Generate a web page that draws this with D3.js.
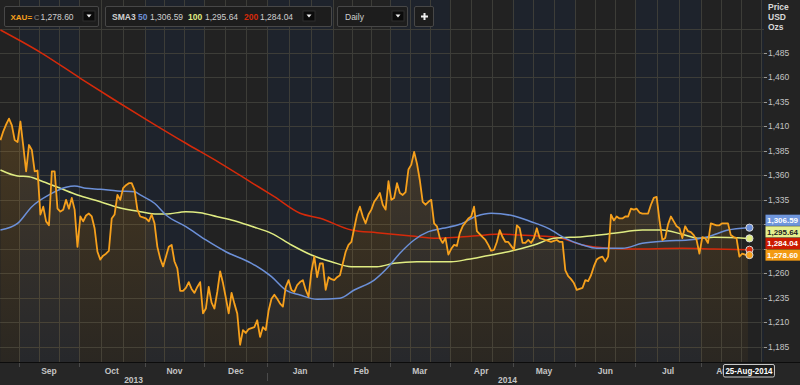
<!DOCTYPE html>
<html>
<head>
<meta charset="utf-8">
<script src="https://cdn.jsdelivr.net/npm/d3@7"></script>
<style>
body { margin: 0; background: #232323; }
svg { display: block; font-family: "Liberation Sans", Arial, sans-serif; }
</style>
</head>
<body>
<script>
// ---- data ----
// XAU= daily close, one value per trading day from 22-Aug-2013 to 25-Aug-2014
var price = [
  1396,1405,1412,1418,1411,1396,1394,1415,1390,1364,
  1391,1386,1364,1365,1320,1328,1313,1309,1364,1364,
  1326,1323,1325,1335,1326,1337,1325,1287,1318,1313,
  1319,1321,1318,1306,1282,1274,1278,1280,1283,1316,
  1320,1340,1335,1347,1350,1352,1352,1345,1325,1318,
  1317,1316,1313,1320,1311,1287,1275,1267,1277,1287,
  1289,1272,1265,1242,1242,1245,1251,1244,1240,1246,
  1251,1219,1224,1246,1230,1224,1241,1262,1250,1235,
  1219,1240,1229,1219,1187,1202,1199,1203,1204,1205,
  1212,1195,1205,1202,1222,1234,1238,1234,1229,1226,
  1246,1253,1243,1241,1248,1251,1253,1243,1236,1262,
  1277,1256,1270,1270,1243,1256,1254,1253,1256,1258,
  1270,1282,1289,1292,1306,1320,1328,1318,1311,1320,
  1325,1333,1337,1342,1330,1325,1354,1335,1337,1352,
  1342,1340,1343,1366,1371,1384,1372,1355,1333,1330,
  1333,1335,1311,1308,1296,1291,1296,1279,1285,1289,
  1288,1301,1308,1312,1316,1318,1328,1303,1300,1297,
  1294,1289,1283,1284,1292,1304,1297,1292,1292,1288,
  1284,1309,1306,1291,1291,1294,1291,1296,1306,1296,
  1295,1294,1293,1292,1293,1294,1292,1292,1263,1257,
  1254,1250,1243,1244,1245,1253,1252,1258,1267,1274,
  1276,1277,1272,1277,1320,1314,1318,1316,1316,1318,
  1318,1326,1325,1326,1322,1321,1321,1321,1330,1337,
  1338,1314,1294,1296,1310,1318,1313,1308,1306,1296,
  1308,1303,1302,1299,1294,1280,1297,1296,1291,1311,
  1310,1309,1309,1311,1311,1311,1299,1297,1296,1277,
  1280,1279,1278.60
];

// moving averages, sampled at trading-day index
var sma50Idx = [0,6,11,17,23,26,30,35,41,47,49,54,58,65,72,79,88,95,100,105,111,119,124,131,136,140,145,150,155,161,167,172,180,186,192,198,204,209,218,225,233,241,248,255,262];
var sma50 = [1304.2,1311,1328,1340,1347.8,1349.1,1346.8,1345.8,1344,1343.3,1340,1331.5,1319.5,1307.6,1294,1282,1270.2,1256.5,1242.9,1237.8,1233.4,1234.4,1242.9,1253.1,1266.7,1280.4,1294,1302.5,1305.9,1310,1318.5,1321.3,1318.5,1312.7,1305.9,1295.7,1288.9,1285.5,1285.5,1290.6,1293,1294,1297.4,1304.2,1306.59];

var sma100Idx = [0,6,10,15,21,27,35,41,49,55,58,65,70,76,82,88,95,102,109,116,123,132,138,146,158,164,170,178,187,194,204,215,225,232,239,245,250,262];
var sma100 = [1365.5,1359.4,1358.6,1353.5,1346.8,1340,1333.1,1327.4,1322.9,1320.5,1320.5,1322.9,1321.9,1317.8,1313.7,1308,1300.8,1288.9,1278.7,1271.8,1266.7,1266.7,1270.2,1271.8,1271.8,1274.3,1277.6,1282,1288.9,1295.7,1297.4,1300.8,1304.2,1304.2,1299.8,1295.7,1296.7,1295.64];

var sma200Idx = [0,14,28,40,52,65,77,88,96,105,112,123,132,144,153,160,170,175,182,195,204,213,221,239,250,262];
var sma200 = [1508.5,1485.7,1459.2,1437,1415.5,1392.8,1372.6,1352.7,1338.2,1321.3,1316.2,1304.2,1301.4,1298.1,1295.7,1296.7,1299.1,1300.1,1299.1,1296.7,1288.9,1285.5,1284.8,1285.5,1284.8,1284.04];

var yTicks = [1185,1210,1235,1260,1285,1310,1335,1360,1385,1410,1435,1460,1485,1510];
var monthNames = ["Jan","Feb","Mar","Apr","May","Jun","Jul","Aug","Sep","Oct","Nov","Dec"];
var lastLabel = "25-Aug-2014";

var C_PRICE = "#f6a01c", C_50 = "#6c90d8", C_100 = "#e0ec82", C_200 = "#d62a0a";

// ---- layout ----
var W = 800, H = 385, plotW = 764, axisY = 362;

// trading calendar (weekdays), a few days past the last close for padding
var days = [];
for (var d = new Date(2013, 7, 22); d <= new Date(2014, 8, 5); d.setDate(d.getDate() + 1)) {
    if (d.getDay() != 0 && d.getDay() != 6) days.push(new Date(d));
}
var lastIdx = price.length - 1;

var x = d3.scaleLinear().domain([-0.158, 267.63]).range([0, plotW]);
var y = d3.scaleLinear().domain([1485, 1185]).range([53, 346.7]);

var svg = d3.select("body").append("svg").attr("width", W).attr("height", H);

svg.append("rect").attr("width", W).attr("height", H).attr("fill", "#232323");
svg.append("rect").attr("width", plotW).attr("height", axisY).attr("fill", "#222222");

// month spans
var months = [];
days.forEach(function(d, i) {
    if (i == 0 || d.getMonth() != days[i - 1].getMonth()) months.push({ date: d, i: i });
});
months.forEach(function(m, k) {
    m.x0 = k == 0 ? 0 : x(m.i - 0.5);
    m.x1 = k < months.length - 1 ? x(months[k + 1].i - 0.5) : plotW;
    m.full = k > 0 && k < months.length - 1;
    m.n = (m.date.getFullYear() - 2013) * 12 + m.date.getMonth() - 8;
});

// alternating month shading
svg.append("g").selectAll("rect")
    .data(months.filter(function(m) { return m.n % 2 == 0; }))
    .join("rect")
    .attr("x", function(m) { return m.x0; })
    .attr("width", function(m) { return Math.min(m.x1, plotW) - m.x0; })
    .attr("y", 0).attr("height", axisY)
    .attr("fill", "#1e232c");

// grid
var grid = svg.append("g").attr("stroke", "#3d3d38").attr("stroke-width", 1);
grid.selectAll("line.h").data(yTicks).join("line")
    .attr("x1", 0).attr("x2", plotW)
    .attr("y1", function(v) { return Math.round(y(v)) + 0.5; })
    .attr("y2", function(v) { return Math.round(y(v)) + 0.5; });

var vlines = [];
months.forEach(function(m, k) {
    if (k > 0) vlines.push(m.x0);
    if (m.full) {
        vlines.push(m.x0 + (m.x1 - m.x0) / 3);
        vlines.push(m.x0 + 2 * (m.x1 - m.x0) / 3);
    }
});
grid.selectAll("line.v").data(vlines).join("line")
    .attr("x1", function(v) { return Math.round(v) + 0.5; })
    .attr("x2", function(v) { return Math.round(v) + 0.5; })
    .attr("y1", 0).attr("y2", axisY);

// price area + line
var defs = svg.append("defs");
var grad = defs.append("linearGradient").attr("id", "fillg")
    .attr("gradientUnits", "userSpaceOnUse")
    .attr("x1", 0).attr("x2", 0).attr("y1", 110).attr("y2", axisY);
grad.append("stop").attr("offset", 0).attr("stop-color", C_PRICE).attr("stop-opacity", 0.18);
grad.append("stop").attr("offset", 1).attr("stop-color", C_PRICE).attr("stop-opacity", 0.04);

svg.append("path")
    .datum(price)
    .attr("fill", "url(#fillg)")
    .attr("d", d3.area()
        .x(function(v, i) { return x(i); })
        .y0(axisY)
        .y1(function(v) { return y(v); }));

function smaPath(idx, vals, color) {
    svg.append("path")
        .datum(vals)
        .attr("fill", "none")
        .attr("stroke", color)
        .attr("stroke-width", 1.5)
        .attr("d", d3.line()
            .curve(d3.curveMonotoneX)
            .x(function(v, k) { return x(idx[k]); })
            .y(function(v) { return y(v); }));
}
smaPath(sma200Idx, sma200, C_200);
smaPath(sma100Idx, sma100, C_100);
smaPath(sma50Idx, sma50, C_50);

svg.append("path")
    .datum(price)
    .attr("fill", "none")
    .attr("stroke", C_PRICE)
    .attr("stroke-width", 1.8)
    .attr("stroke-linejoin", "round")
    .attr("d", d3.line()
        .x(function(v, i) { return x(i); })
        .y(function(v) { return y(v); }));

// end markers and price tags
var ends = [
    { v: sma50[sma50.length - 1], c: C_50, bg: "#6f96dc", fg: "#fff" },
    { v: sma100[sma100.length - 1], c: C_100, bg: "#e6f08e", fg: "#222" },
    { v: sma200[sma200.length - 1], c: C_200, bg: "#cc1a00", fg: "#fff" },
    { v: price[lastIdx], c: C_PRICE, bg: "#f39a12", fg: "#fff" }
];
svg.append("g").selectAll("circle").data(ends).join("circle")
    .attr("cx", x(lastIdx) + 1.5)
    .attr("cy", function(e) { return y(e.v); })
    .attr("r", 3.6)
    .attr("fill", function(e) { return e.c; })
    .attr("stroke", "#d8d8d8").attr("stroke-width", 1);

// tag positions, stacked upward from the lowest value
var sorted = ends.slice().sort(function(a, b) { return a.v - b.v; });
var prevY = Infinity;
sorted.forEach(function(e) {
    var ty = Math.min(y(e.v), prevY - 11.6);
    prevY = ty;
    e.ty = ty;
});

// y axis (labels hidden behind the tags are left out)
var shownTicks = yTicks.filter(function(v) {
    return v < 1500 && ends.every(function(e) { return Math.abs(y(v) - e.ty) > 7; });
});
var yax = svg.append("g");
yax.selectAll("line").data(yTicks.filter(function(v) { return v < 1500; })).join("line")
    .attr("x1", 764).attr("x2", 767)
    .attr("y1", function(v) { return Math.round(y(v)) + 0.5; })
    .attr("y2", function(v) { return Math.round(y(v)) + 0.5; })
    .attr("stroke", "#999");
yax.selectAll("text").data(shownTicks).join("text")
    .attr("x", 768)
    .attr("y", function(v) { return y(v) + 3; })
    .attr("fill", "#c4c4c4")
    .attr("font-size", "8.5px")
    .text(function(v) { return d3.format(",")(v); });
yax.selectAll("text.u").data(["Price", "USD", "Ozs"]).join("text")
    .attr("x", 768)
    .attr("y", function(s, i) { return 9.5 + i * 10; })
    .attr("fill", "#d8d8d8")
    .attr("font-size", "8.5px")
    .attr("font-weight", "bold")
    .text(function(s) { return s; });

var tags = svg.append("g").selectAll("g").data(ends).join("g");
tags.append("rect")
    .attr("x", 765.5).attr("width", 35)
    .attr("y", function(e) { return e.ty - 5.6; })
    .attr("height", 11.2)
    .attr("fill", function(e) { return e.bg; });
tags.append("text")
    .attr("x", 767)
    .attr("y", function(e) { return e.ty + 3; })
    .attr("fill", function(e) { return e.fg; })
    .attr("font-size", "8px")
    .attr("font-weight", "bold")
    .attr("textLength", 31)
    .attr("lengthAdjust", "spacingAndGlyphs")
    .text(function(e) { return d3.format(",.2f")(e.v); });

// x axis
svg.append("rect").attr("y", axisY).attr("width", W).attr("height", H - axisY).attr("fill", "#262626");
svg.append("line").attr("x1", 0).attr("x2", W).attr("y1", axisY + 0.5).attr("y2", axisY + 0.5)
    .attr("stroke", "#0c0c0c").attr("stroke-width", 1.2);

var lx = x(lastIdx) + 1;
var xEnd = x(lastIdx);

var xax = svg.append("g");
xax.selectAll("line").data(months.slice(1).filter(function(m) { return m.x0 < plotW - 6; })).join("line")
    .attr("x1", function(m) { return Math.round(m.x0) + 0.5; })
    .attr("x2", function(m) { return Math.round(m.x0) + 0.5; })
    .attr("y1", axisY + 1).attr("y2", axisY + 5)
    .attr("stroke", "#4a4a4a");
xax.selectAll("text").data(months.filter(function(m) { return m.full; })).join("text")
    .attr("x", function(m) { return (m.x0 + Math.min(m.x1, xEnd)) / 2; })
    .attr("y", 373.5)
    .attr("text-anchor", "middle")
    .attr("fill", "#c4c4c4")
    .attr("font-size", "8.5px")
    .attr("font-weight", "bold")
    .text(function(m) { return monthNames[m.date.getMonth()]; });

var jan = months.filter(function(m) { return m.date.getMonth() == 0; })[0];
var years = [
    { t: "2013", cx: jan.x0 / 2 },
    { t: "2014", cx: (jan.x0 + xEnd) / 2 }
];
xax.selectAll("text.yr").data(years).join("text")
    .attr("x", function(o) { return o.cx; })
    .attr("y", 382.5)
    .attr("text-anchor", "middle")
    .attr("fill", "#c4c4c4")
    .attr("font-size", "8.5px")
    .attr("font-weight", "bold")
    .text(function(o) { return o.t; });
xax.append("line")
    .attr("x1", Math.round(jan.x0) + 0.5).attr("x2", Math.round(jan.x0) + 0.5)
    .attr("y1", 373).attr("y2", 381).attr("stroke", "#4a4a4a");

// hover date box (sits over the last month label, as in the original)
svg.append("rect").attr("x", lx - 25.5).attr("y", 364.5).attr("width", 51).attr("height", 12.5)
    .attr("rx", 1.5).attr("fill", "#1c1c1c").attr("stroke", "#c8c8c8");
svg.append("text").attr("x", lx).attr("y", 374).attr("text-anchor", "middle")
    .attr("fill", "#fff").attr("font-size", "8.5px").attr("font-weight", "bold")
    .attr("textLength", 47).attr("lengthAdjust", "spacingAndGlyphs")
    .text(lastLabel);

// ---- toolbar ----
var tb = svg.append("g");
function box(x0, w) {
    tb.append("rect").attr("x", x0 + 0.5).attr("y", 6.5).attr("width", w).attr("height", 20)
        .attr("rx", 1.5).attr("fill", "#1d1d1d").attr("stroke", "#474747");
}
function dropBtn(x0) {
    tb.append("rect").attr("x", x0).attr("y", 11).attr("width", 12).attr("height", 10)
        .attr("fill", "#0b0b0b").attr("stroke", "#2e2e2e");
    tb.append("path").attr("d", "M" + (x0 + 3.5) + ",14.5h5l-2.5,3z").attr("fill", "#eee");
}
function label(x0, s, color, bold, size) {
    tb.append("text").attr("x", x0).attr("y", 19.5)
        .attr("fill", color).attr("font-size", (size || 8.5) + "px")
        .attr("font-weight", bold ? "bold" : "normal").text(s);
}
box(4, 94);
label(10.5, "XAU=", C_PRICE, true, 8);
label(34, "C", "#8a8a8a", false, 7.5);
label(40.5, d3.format(",.2f")(price[lastIdx]), "#cfcfcf", false);
dropBtn(83);

box(105, 226);
label(112, "SMA3", "#d0d0d0", true);
label(138, "50", C_50, true);
label(150, d3.format(",.2f")(sma50[sma50.length - 1]), "#cfcfcf", false);
label(188, "100", C_100, true);
label(205, d3.format(",.2f")(sma100[sma100.length - 1]), "#cfcfcf", false);
label(244, "200", C_200, true);
label(260, d3.format(",.2f")(sma200[sma200.length - 1]), "#cfcfcf", false);
dropBtn(303);

box(337, 70);
label(345, "Daily", "#cfcfcf", false);
dropBtn(392);

box(414, 19);
tb.append("path").attr("d", "M421,16.5h7M424.5,13v7").attr("stroke", "#eee").attr("stroke-width", 2);
</script>
</body>
</html>
